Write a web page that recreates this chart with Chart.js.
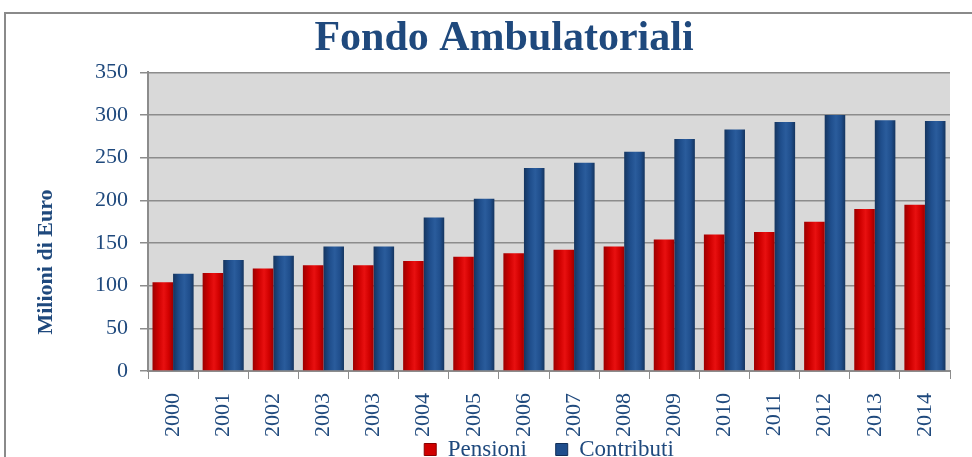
<!DOCTYPE html>
<html>
<head>
<meta charset="utf-8">
<script src="https://cdn.jsdelivr.net/npm/chart.js@4.4.1/dist/chart.umd.min.js"></script>
<style>
  html, body { margin: 0; padding: 0; background: #fff; overflow: hidden; }
  #frame { position: absolute; left: 4px; top: 12px; width: 1000px; height: 480px;
           border-left: 2px solid #8a8a8a; border-top: 2px solid #8a8a8a; }
  #wrap { position: absolute; left: 0; top: 0; width: 1008px; height: 471px; }
</style>
</head>
<body>
<div id="frame"></div>
<div id="wrap"><canvas id="barChart"></canvas></div>
<script>
// categorie (anni) - il 2003 compare due volte come nell'originale
const anni = ['2000', '2001', '2002', '2003', '2003', '2004', '2005', '2006',
              '2007', '2008', '2009', '2010', '2011', '2012', '2013', '2014'];
// milioni di euro
const pensioni = [104, 115, 120, 124, 124, 129, 134, 138, 142, 146, 154, 160, 163, 175, 190, 195];
const contributi = [114, 130, 135, 146, 146, 180, 202, 238, 244, 257, 272, 283, 292, 300, 294, 293];
const yTicks = [0, 50, 100, 150, 200, 250, 300, 350];
const yTitle = 'Milioni di Euro';

const blu = '#1f497d';
const serif = "'Liberation Serif', 'Times New Roman', serif";
const catPct = 0.82;

// sfumatura orizzontale per dare l'effetto "cilindro" delle barre
function shade(dark, mid, light) {
    return function (c) {
        const x = c.chart.scales && c.chart.scales.x;
        if (!x || !isFinite(x.width) || x.width <= 0) return mid;
        const center = x.getPixelForValue(c.dataIndex);
        const half = (x.width / anni.length) * catPct / 2;
        const l = c.datasetIndex === 0 ? center - half : center;
        const r = l + half;
        const g = c.chart.ctx.createLinearGradient(l, 0, r, 0);
        g.addColorStop(0, dark);
        g.addColorStop(0.3, mid);
        g.addColorStop(0.55, light);
        g.addColorStop(0.8, mid);
        g.addColorStop(1, dark);
        return g;
    };
}

// sfondo grigio dell'area del grafico
const plotBg = {
    id: 'plotBg',
    beforeDraw(chart) {
        const a = chart.chartArea;
        const c = chart.ctx;
        c.save();
        c.fillStyle = '#d9d9d9';
        c.fillRect(a.left, a.top, a.right - a.left, a.bottom - a.top);
        c.restore();
    }
};

// titolo asse Y (nell'originale non e' centrato sull'asse)
const yTitlePlugin = {
    id: 'yTitle',
    afterDraw(chart) {
        const c = chart.ctx;
        c.save();
        c.translate(46, 262);
        c.rotate(-Math.PI / 2);
        c.textAlign = 'center';
        c.textBaseline = 'middle';
        c.fillStyle = blu;
        c.font = 'bold 22px ' + serif;
        c.fillText(yTitle, 0, 0);
        c.restore();
    }
};

const ctx = document.getElementById('barChart').getContext('2d');
const chart = new Chart(ctx, {
    type: 'bar',
    data: {
        labels: anni,
        datasets: [{
            label: 'Pensioni',
            data: pensioni,
            backgroundColor: shade('#9c0000', '#d00000', '#e81010'),
            borderWidth: 0,
            categoryPercentage: catPct,
            barPercentage: 1.0
        }, {
            label: 'Contributi',
            data: contributi,
            backgroundColor: shade('#15355f', '#1f4e8c', '#2a5c9c'),
            borderWidth: 0,
            categoryPercentage: catPct,
            barPercentage: 1.0
        }]
    },
    options: {
        responsive: true,
        maintainAspectRatio: false,
        animation: false,
        layout: { padding: { left: 58, right: 58, top: 10, bottom: 0 } },
        plugins: {
            title: {
                display: true,
                text: 'Fondo Ambulatoriali',
                color: blu,
                font: { family: serif, size: 42, weight: 'bold' },
                padding: { top: 4, bottom: 8 }
            },
            legend: {
                position: 'bottom',
                fullSize: false,
                labels: {
                    color: blu,
                    font: { family: serif, size: 23 },
                    boxWidth: 12,
                    boxHeight: 12,
                    padding: 0,
                    generateLabels(chart) {
                        const cols = ['#d00000', '#1f4e8c'];
                        const bords = ['#8a0000', '#12305a'];
                        return chart.data.datasets.map((d, i) => ({
                            // spazi finali per separare le due voci
                            text: i === 0 ? d.label + '     ' : d.label,
                            fillStyle: cols[i],
                            strokeStyle: bords[i],
                            lineWidth: 1,
                            fontColor: blu,
                            datasetIndex: i,
                            hidden: false
                        }));
                    }
                }
            },
            tooltip: { enabled: false }
        },
        scales: {
            x: {
                afterFit(scale) { scale.height = 67; },
                grid: { display: true, drawOnChartArea: false, offset: true, color: '#8c8c8c', tickLength: 8 },
                border: { color: '#8c8c8c', width: 2 },
                ticks: {
                    color: blu,
                    font: { family: serif, size: 22 },
                    minRotation: 90,
                    maxRotation: 90,
                    padding: 14
                }
            },
            y: {
                min: 0,
                max: 350,
                afterBuildTicks(scale) {
                    scale.ticks = yTicks.map(v => ({ value: v }));
                },
                afterFit(scale) { scale.width = 90; },
                grid: { color: '#8c8c8c', lineWidth: 1.5, tickLength: 8 },
                border: { color: '#8c8c8c', width: 2 },
                ticks: {
                    color: blu,
                    font: { family: serif, size: 22 },
                    padding: 12
                }
            }
        }
    },
    plugins: [plotBg, yTitlePlugin]
});
</script>
</body>
</html>
